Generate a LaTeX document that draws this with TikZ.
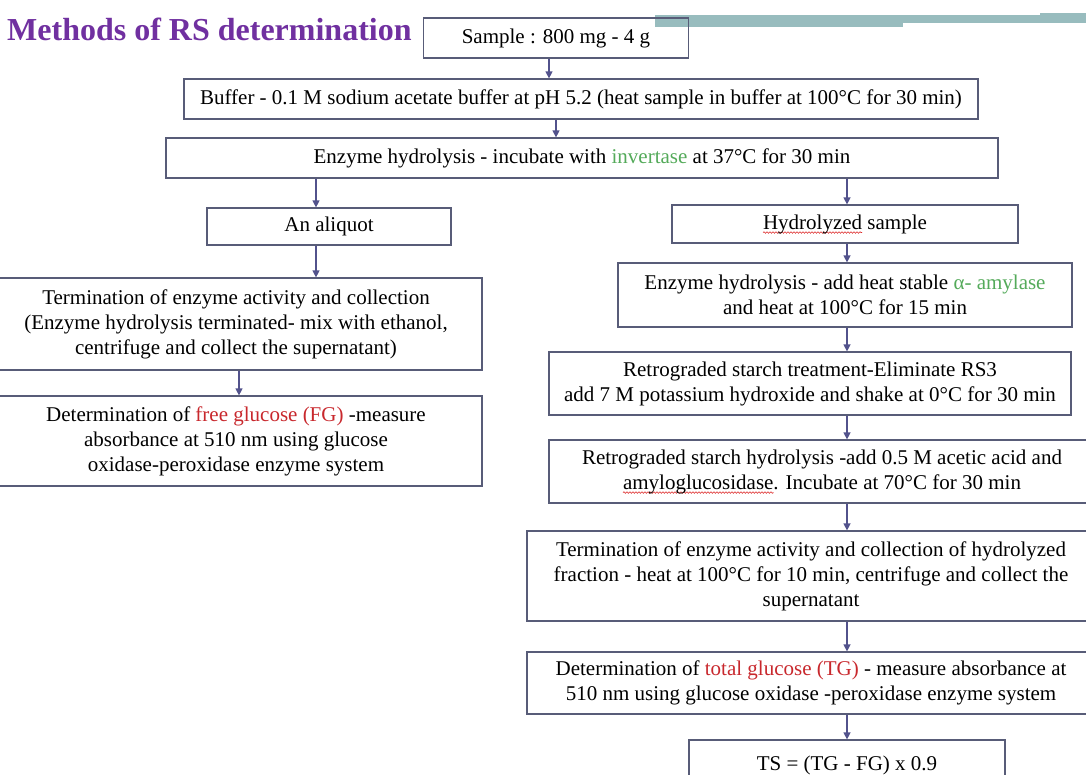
\documentclass[tikz,border=0pt]{standalone}
\usepackage{fontspec}
\setmainfont{Liberation Serif}
\usetikzlibrary{arrows.meta,decorations.pathmorphing}

\definecolor{titlepurple}{RGB}{112,48,160}
\definecolor{boxline}{RGB}{88,92,120}
\definecolor{arrowblue}{RGB}{82,82,140}
\definecolor{enzgreen}{RGB}{84,170,90}
\definecolor{glured}{RGB}{200,40,45}
\definecolor{barteal}{RGB}{152,188,190}
\definecolor{spellred}{RGB}{220,40,40}

% red spell-check wave under a word
\newsavebox\spellbox
\newcommand\spellchk[1]{\sbox\spellbox{#1}\rlap{\tikz[overlay]\draw[spellred, line width=0.6pt,
    decorate, decoration={snake, amplitude=0.8pt, segment length=3pt}]
    (0pt,-3.5pt) -- (\wd\spellbox,-3.5pt);}\usebox\spellbox}

\tikzset{
  stage/.style={draw=boxline, line width=1.2pt, inner sep=0pt, align=center,
    font=\fontsize{21}{25}\selectfont},
  flow/.style={draw=arrowblue, line width=1.2pt, -{Triangle[length=7pt,width=7pt]}}
}

\begin{document}
\begin{tikzpicture}[x=1pt,y=-1pt]
\useasboundingbox (0,0) rectangle (1086,774);

% header bar
\fill[barteal] (655,15) rectangle (903,27);
\fill[barteal] (655,15) rectangle (1086,23);
\fill[barteal] (1040,13) rectangle (1086,23);

\node[anchor=west, inner sep=0pt, text=titlepurple,
  font=\fontsize{32}{36}\selectfont\bfseries] (title) at (7,29) {Methods of RS determination};

% common steps
\node[stage, minimum width=265pt, minimum height=40pt] (sample) at (556,38) {Sample : 800 mg - 4 g};
\node[stage, minimum width=794pt, minimum height=40pt] (buffer) at (581,99)
  {Buffer - 0.1 M sodium acetate buffer at pH 5.2 (heat sample in buffer at 100°C for 30 min)};
\node[stage, minimum width=832pt, minimum height=40pt] (enzyme) at (582,158)
  {Enzyme hydrolysis - incubate with \textcolor{enzgreen}{invertase} at 37°C for 30 min};

% left branch: free glucose
\node[stage, minimum width=244pt, minimum height=37pt] (aliquot) at (329,226.5) {An aliquot};
\node[stage, minimum width=492pt, minimum height=92pt] (stopL) at (236,324)
  {Termination of enzyme activity and collection\\
   (Enzyme hydrolysis terminated- mix with ethanol,\\
   centrifuge and collect the supernatant)};
\node[stage, minimum width=492pt, minimum height=90pt] (freeG) at (236,441)
  {Determination of \textcolor{glured}{free glucose (FG)} -measure\\
   absorbance at 510 nm using glucose\\
   oxidase-peroxidase enzyme system};

% right branch: total glucose
\node[stage, minimum width=346pt, minimum height=38pt] (hydro) at (845,224)
  {\spellchk{Hydrolyzed} sample};
\node[stage, minimum width=454pt, minimum height=64pt] (amylase) at (845,295)
  {Enzyme hydrolysis - add heat stable \textcolor{enzgreen}{α- amylase}\\
   and heat at 100°C for 15 min};
\node[stage, minimum width=522pt, minimum height=63pt] (rs3) at (810,383.5)
  {Retrograded starch treatment-Eliminate RS3\\
   add 7 M potassium hydroxide and shake at 0°C for 30 min};
\node[stage, minimum width=546pt, minimum height=63pt] (amg) at (822,471.5)
  {Retrograded starch hydrolysis -add 0.5 M acetic acid and\\
   \spellchk{amyloglucosidase}. Incubate at 70°C for 30 min};
\node[stage, minimum width=568pt, minimum height=90pt] (stopR) at (811,576)
  {Termination of enzyme activity and collection of hydrolyzed\\
   fraction - heat at 100°C for 10 min, centrifuge and collect the\\
   supernatant};
\node[stage, minimum width=568pt, minimum height=62pt] (totalG) at (811,683)
  {Determination of \textcolor{glured}{total glucose (TG)} - measure absorbance at\\
   510 nm using glucose oxidase -peroxidase enzyme system};
\node[stage, minimum width=316pt, minimum height=50pt] (result) at (847,765)
  {TS = (TG - FG) x 0.9};

% arrow columns
\coordinate (colA) at (549,0);
\coordinate (colB) at (556,0);
\coordinate (colL) at (316,0);
\coordinate (colF) at (239,0);
\coordinate (colR) at (847,0);

\draw[flow] (sample.south -| colA) -- (buffer.north -| colA);
\draw[flow] (buffer.south -| colB) -- (enzyme.north -| colB);
\draw[flow] (enzyme.south -| colL) -- (aliquot.north -| colL);
\draw[flow] (aliquot.south -| colL) -- (stopL.north -| colL);
\draw[flow] (stopL.south -| colF) -- (freeG.north -| colF);
\draw[flow] (enzyme.south -| colR) -- (hydro.north -| colR);
\draw[flow] (hydro.south -| colR) -- (amylase.north -| colR);
\draw[flow] (amylase.south -| colR) -- (rs3.north -| colR);
\draw[flow] (rs3.south -| colR) -- (amg.north -| colR);
\draw[flow] (amg.south -| colR) -- (stopR.north -| colR);
\draw[flow] (stopR.south -| colR) -- (totalG.north -| colR);
\draw[flow] (totalG.south -| colR) -- (result.north -| colR);
\end{tikzpicture}
\end{document}
